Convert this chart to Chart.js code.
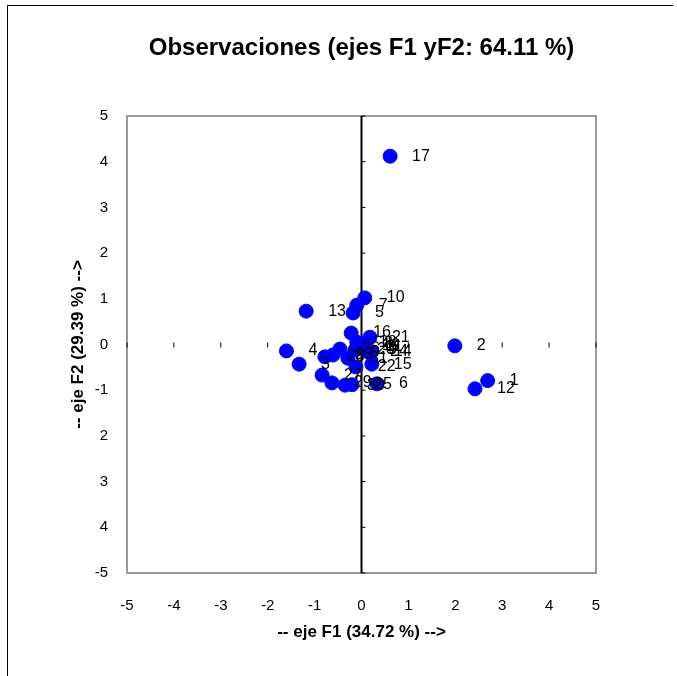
<!DOCTYPE html>
<html>
<head>
<meta charset="utf-8">
<script src="https://cdn.jsdelivr.net/npm/chart.js@4"></script>
<style>
  body { margin: 0; background: #fff; }
  #wrap { position: relative; width: 677px; height: 676px; }
  #frame { position: absolute; left: 7px; top: 5px; width: 665px; height: 690px;
           border-top: 1px solid #000; border-left: 1px solid #000; }
  canvas { position: absolute; left: 0; top: 0; }
</style>
</head>
<body>
<div id="wrap">
  <div id="frame"></div>
  <canvas id="obsChart" width="677" height="676"></canvas>
</div>
<script>
  // observaciones
  const obsLabels = ['1','2','3','4','5','6','7','8','9','10','11','12','13','14','15','16',
                     '17','18','19','20','21','22','23','24','25','26','27','28','29','30','31'];
  const f1 = [2.69, 1.99, -1.33, -1.60, -0.18, 0.33, -0.10, 0.01, 0.10, 0.07, 0.05, 2.42, -1.18, 0.22, 0.22, -0.22,
              0.61, -0.10, -0.03, -0.14, 0.18, -0.12, -0.61, 0.14, -0.20, -0.46, -0.84, -0.78, -0.63, -0.35, -0.29];
  const f2 = [-0.79, -0.03, -0.43, -0.14, 0.69, -0.86, 0.86, 0.03, -0.12, 1.02, -0.05, -0.97, 0.73, -0.16, -0.43, 0.25,
              4.12, 0.05, -0.03, -0.12, 0.16, -0.49, -0.23, -0.16, -0.88, -0.10, -0.67, -0.27, -0.84, -0.89, -0.30];
  const xTickLabels = ['-5','-4','-3','-2','-1','0','1','2','3','4','5'];
  const yTickLabels = ['-5','4','3','2','-1','0','1','2','3','4','5'];
  const chartTitle = 'Observaciones (ejes F1 yF2: 64.11 %)';

  const points = f1.map((x, i) => ({ x: x, y: f2[i] }));
  const fontFam = '"Liberation Sans", Arial, sans-serif';

  const boxAndAxes = {
    id: 'boxAndAxes',
    beforeDatasetsDraw(chart) {
      const ctx = chart.ctx, a = chart.chartArea;
      const xs = chart.scales.x, ys = chart.scales.y;
      ctx.save();
      // titulo centrado sobre el area del grafico
      ctx.font = 'bold 24px ' + fontFam;
      ctx.fillStyle = '#000';
      ctx.textAlign = 'center';
      ctx.textBaseline = 'middle';
      ctx.fillText(chartTitle, (a.left + a.right) / 2, 48);

      ctx.strokeStyle = '#9a9a9a';
      ctx.lineWidth = 2;
      ctx.strokeRect(a.left, a.top, a.right - a.left, a.bottom - a.top);
      // eje vertical en x = 0
      const x0 = xs.getPixelForValue(0), y0 = ys.getPixelForValue(0);
      ctx.strokeStyle = '#000';
      ctx.lineWidth = 2;
      ctx.beginPath();
      ctx.moveTo(x0, a.top);
      ctx.lineTo(x0, a.bottom);
      ctx.stroke();
      ctx.lineWidth = 1;
      for (let v = -5; v <= 5; v++) {
        const py = ys.getPixelForValue(v);
        ctx.beginPath();
        ctx.moveTo(x0, py);
        ctx.lineTo(x0 + 4, py);
        ctx.stroke();
        const px = xs.getPixelForValue(v);
        ctx.beginPath();
        ctx.moveTo(px, y0 - 2);
        ctx.lineTo(px, y0 + 3);
        ctx.stroke();
      }
      ctx.restore();
    },
    afterDatasetsDraw(chart) {
      const ctx = chart.ctx;
      const meta = chart.getDatasetMeta(0);
      ctx.save();
      ctx.font = '16px ' + fontFam;
      ctx.fillStyle = '#000';
      ctx.textBaseline = 'middle';
      meta.data.forEach((el, i) => {
        ctx.fillText(obsLabels[i], el.x + 22, el.y);
      });
      ctx.restore();
    }
  };

  const obsChart = new Chart(document.getElementById('obsChart'), {
    type: 'scatter',
    data: {
      datasets: [{
        label: 'Observaciones',
        data: points,
        backgroundColor: '#0000ff',
        borderColor: '#0000ff',
        pointRadius: 7,
        pointHoverRadius: 7
      }]
    },
    options: {
      responsive: false,
      animation: false,
      layout: { padding: { left: 68, right: 81, top: 116, bottom: 33 } },
      plugins: {
        legend: { display: false },
        tooltip: { enabled: false },
        title: { display: false }
      },
      scales: {
        x: {
          type: 'linear', min: -5, max: 5,
          grid: { display: false, drawTicks: false },
          border: { display: false },
          ticks: {
            stepSize: 1, color: '#000', padding: 24,
            font: { family: fontFam, size: 15 },
            callback: (v) => xTickLabels[v + 5]
          },
          title: {
            display: true, text: '-- eje F1 (34.72 %) -->', color: '#000',
            font: { family: fontFam, size: 17, weight: 'bold' },
            padding: { top: 8, bottom: 0 }
          },
          afterFit(s) { s.height = 70; }
        },
        y: {
          type: 'linear', min: -5, max: 5,
          grid: { display: false, drawTicks: false },
          border: { display: false },
          ticks: {
            stepSize: 1, color: '#000', padding: 19,
            font: { family: fontFam, size: 15 },
            callback: (v) => yTickLabels[v + 5]
          },
          title: {
            display: true, text: '-- eje F2 (29.39 %) -->', color: '#000',
            font: { family: fontFam, size: 17, weight: 'bold' },
            padding: { top: 0, bottom: 0 }
          },
          afterFit(s) { s.width = 59; }
        }
      }
    },
    plugins: [boxAndAxes]
  });
</script>
</body>
</html>
